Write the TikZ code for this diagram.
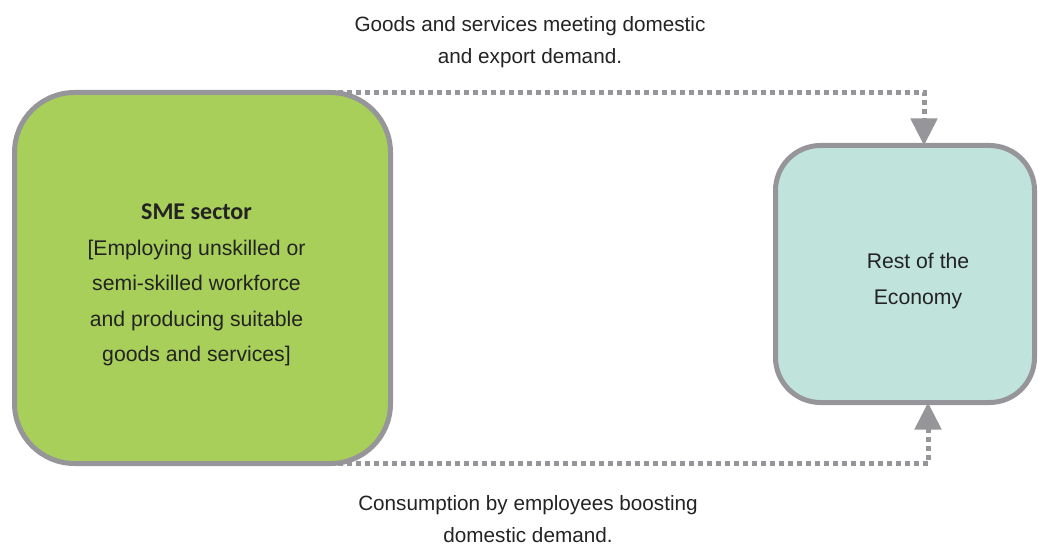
\documentclass[tikz,border=0pt]{standalone}
\usepackage{fontspec}
\setmainfont{Liberation Sans}
\newfontfamily\calibri{Carlito}
\usetikzlibrary{arrows.meta,positioning,calc,backgrounds}
\definecolor{smegreen}{RGB}{168,207,90}
\definecolor{restteal}{RGB}{192,227,220}
\definecolor{edgegray}{RGB}{150,150,154}
\definecolor{textdark}{RGB}{35,35,35}
\tikzstyle{sector} = [rectangle, draw=edgegray, line width=5pt, outer sep=0pt]
\tikzstyle{boxtext} = [align=center, text=textdark, font=\fontsize{21.2}{35.5}\selectfont]
\tikzstyle{flow} = [draw=edgegray, line width=5pt, dash pattern=on 5pt off 4pt,
    -{Triangle[length=27pt,width=26pt]}]

\begin{document}
\begin{tikzpicture}[x=1pt, y=-1pt]
    % Style definitions
    \tikzstyle{data} = [align=center, text=textdark, font=\fontsize{20.7}{31.5}\selectfont]
    \useasboundingbox (0,0) rectangle (1038,545);

    % Sectors
    \node [sector, fill=smegreen, rounded corners=60pt, minimum width=376pt,
        minimum height=371pt,
        label={[boxtext, xshift=-6pt, yshift=-7pt]center:{{\calibri\bfseries\fontsize{24}{35.5}\selectfont SME sector}\\
         {[}Employing unskilled or\\ semi-skilled workforce\\
         and producing suitable\\ goods and services{]}}}] (sme) at (202.5,278) {};
    \node [sector, fill=restteal, rounded corners=45pt, minimum width=259pt,
        minimum height=257pt, right=385pt of sme, yshift=4pt,
        label={[boxtext, xshift=13pt, yshift=-7pt]center:{Rest of the\\ Economy}}] (rest) {};

    % Connections
    \begin{pgfonlayer}{background}
    \path [flow] (sme.north) -| ([xshift=19pt]rest.north);
    \path [flow] (sme.south) -| ([xshift=23pt]rest.south);
    \end{pgfonlayer}

    % Flow labels
    \node [data] (goods) at (530,42) {Goods and services meeting domestic\\ and export demand.};
    \node [data] (consumption) at (528,519) {Consumption by employees boosting\\ domestic demand.};
\end{tikzpicture}
\end{document}
